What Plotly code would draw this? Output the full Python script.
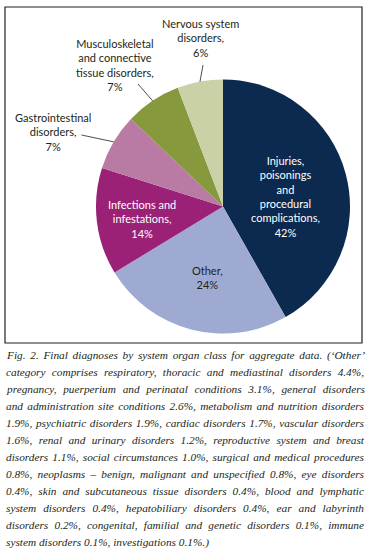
import json
import math
import plotly.graph_objects as go

W, H = 366, 552

# ---- data ----
categories = [
    "Injuries, poisonings and procedural complications",
    "Other",
    "Infections and infestations",
    "Gastrointestinal disorders",
    "Musculoskeletal and connective tissue disorders",
    "Nervous system disorders",
]
values = [41.8, 24.5, 13.6, 7.2, 7.1, 5.8]
pct_labels = ["42%", "24%", "14%", "7%", "7%", "6%"]
label_texts = [
    "Injuries,<br>poisonings<br>and<br>procedural<br>complications,",
    "Other,",
    "Infections and<br>infestations,",
    "Gastrointestinal<br>disorders,",
    "Musculoskeletal<br>and connective<br>tissue disorders,",
    "Nervous system<br>disorders,",
]
colors = ["#0c2a4f", "#9eaad2", "#9b2177", "#b97aa4", "#86993d", "#cbd1a7"]

caption_lines = [
    "Fig. 2. Final diagnoses by system organ class for aggregate data. (‘Other’",
    "category comprises respiratory, thoracic and mediastinal disorders 4.4%,",
    "pregnancy, puerperium and perinatal conditions 3.1%, general disorders",
    "and administration site conditions 2.6%, metabolism and nutrition disorders",
    "1.9%, psychiatric disorders 1.9%, cardiac disorders 1.7%, vascular disorders",
    "1.6%, renal and urinary disorders 1.2%, reproductive system and breast",
    "disorders 1.1%, social circumstances 1.0%, surgical and medical procedures",
    "0.8%, neoplasms – benign, malignant and unspecified 0.8%, eye disorders",
    "0.4%, skin and subcutaneous tissue disorders 0.4%, blood and lymphatic",
    "system disorders 0.4%, hepatobiliary disorders 0.4%, ear and labyrinth",
    "disorders 0.2%, congenital, familial and genetic disorders 0.1%, immune",
    "system disorders 0.1%, investigations 0.1%.)",
]

# ---- layout helpers (pixel -> paper) ----
def px(x):
    return x / W

def py(y):
    return 1 - y / H

CX, CY, R = 223, 206.5, 127
CAP_LEFT, CAP_RIGHT = 4, 362

fig = go.Figure()
fig.add_trace(go.Pie(
    labels=categories,
    values=values,
    sort=False,
    direction="clockwise",
    rotation=0,
    marker=dict(colors=colors, line=dict(width=0)),
    textinfo="none",
    hoverinfo="label+percent",
    showlegend=False,
    domain=dict(x=[px(CX - R), px(CX + R)], y=[py(CY + R), py(CY - R)]),
))

LBL_FONT = "Lato, 'Open Sans', sans-serif"
annotations = []
shapes = []

# label placements: (x, y) centre in pixels, text colour, leader start or None
placements = [
    ((285, 196), "white", None),
    ((207, 277), "#231f20", None),
    ((142, 219), "white", None),
    ((53, 132), "#231f20", (81.5, 135)),
    ((115, 65), "#231f20", (138, 84)),
    ((200, 38), "#231f20", (203, 65)),
]

total = sum(values)
cum = 0.0
for i, v in enumerate(values):
    mid = (cum + v / 2) / total * 2 * math.pi
    cum += v
    (lx, ly), col, lead = placements[i]
    annotations.append(dict(
        x=px(lx), y=py(ly), xref="paper", yref="paper",
        text=label_texts[i] + "<br>" + pct_labels[i],
        showarrow=False, xanchor="center", yanchor="middle", align="center",
        font=dict(family=LBL_FONT, size=11, color=col),
    ))
    if lead is not None:
        ex = CX + R * math.sin(mid)
        ey = CY - R * math.cos(mid)
        shapes.append(dict(
            type="line", xref="paper", yref="paper",
            x0=px(lead[0]), y0=py(lead[1]), x1=px(ex), y1=py(ey),
            line=dict(color="#231f20", width=0.8),
        ))

# border box
shapes.append(dict(
    type="rect", xref="paper", yref="paper",
    x0=px(5), x1=px(362), y0=py(343), y1=py(7),
    line=dict(color="#231f20", width=1.2), fillcolor="rgba(0,0,0,0)",
))

# caption
for k, line in enumerate(caption_lines):
    annotations.append(dict(
        x=px(CAP_LEFT), y=py(355 + 17 * k), xref="paper", yref="paper",
        text="<i>" + line + "</i>",
        showarrow=False, xanchor="left", yanchor="middle", align="left",
        font=dict(family="'Liberation Serif', 'DejaVu Serif', serif", size=11.3, color="#231f20"),
    ))

fig.update_layout(
    width=W, height=H,
    margin=dict(l=0, r=0, t=0, b=0),
    paper_bgcolor="white", plot_bgcolor="white",
    annotations=annotations, shapes=shapes,
)

# justify caption lines (all but the last) by adjusting word spacing
justify_js = """
document.body.style.margin='0';
try {
  var lines = %s;
  var target = %f;
  document.querySelectorAll('text.annotation-text').forEach(function(el){
    var t = el.textContent;
    if (lines.indexOf(t) < 0) return;
    var n = (t.match(/ /g) || []).length;
    if (!n) return;
    var len = el.getComputedTextLength();
    var extra = (target - len) / n;
    if (extra > 0) el.style.wordSpacing = extra + 'px';
  });
} catch (e) {}
""" % (json.dumps(caption_lines[:-1]), CAP_RIGHT - CAP_LEFT)

fig.write_html("out.html", post_script=justify_js, config={"displayModeBar": False})
